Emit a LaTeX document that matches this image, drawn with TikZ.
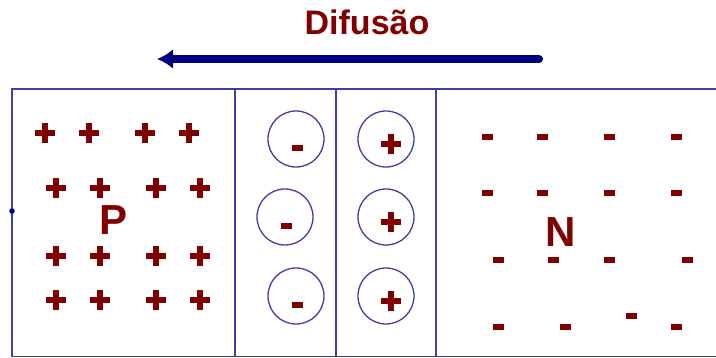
\documentclass[tikz,border=0pt]{standalone}
\usepackage{fontspec}
\setmainfont{Liberation Sans}
\usetikzlibrary{arrows.meta}
\definecolor{dred}{RGB}{128,0,0}
\definecolor{framec}{RGB}{64,64,160}
\definecolor{navyc}{RGB}{0,0,128}
\tikzset{
  plussign/.pic={\fill[dred] (-10,-3) rectangle (10,3); \fill[dred] (-3,-10) rectangle (3,10);},
  minussign/.pic={\fill[dred] (-5.5,-3) rectangle (5.5,3);},
  ion/.style={circle, draw=framec, line width=1.3pt, minimum size=56pt, inner sep=0pt},
  framel/.style={draw=framec, line width=1.6pt},
  biglabel/.style={font=\bfseries\fontsize{42}{42}\selectfont, text=dred, inner sep=0pt},
}
\begin{document}
\begin{tikzpicture}[x=1pt,y=-1pt]
\useasboundingbox (0,0) rectangle (716,358);
% frame
\draw[framel] (12,89) rectangle (718,356.5);
\draw[framel] (235,89) -- (235,356.5);
\draw[framel] (336,89) -- (336,356.5);
\draw[framel] (436,89) -- (436,356.5);
\fill[navyc] (12,211) circle (2.8);
% title and arrow
\node[font=\bfseries\fontsize{34}{34}\selectfont, text=dred, anchor=base, inner sep=0pt] (title) at (367,35) {Difusão};
\coordinate (arrS) at (539,59);
\coordinate (arrE) at (157,59);
\draw[navyc, line width=8pt, line cap=round, -{Latex[length=16pt,width=20pt]}] (arrS) -- (arrE);
% P region
\node[biglabel] (P) at (114,220) {P};
\foreach \x in {45,89,145,189} \pic at (\x,133) {plussign};
\foreach \y in {188,256,300} \foreach \x in {56,100,156,200} \pic at (\x,\y) {plussign};
% N region
\node[biglabel] (N) at (561,232) {N};
\foreach \y in {137,193} \foreach \x in {487,542,609,676} \pic at (\x,\y) {minussign};
\foreach \x in {498,553,609,687} \pic at (\x,260) {minussign};
\foreach \x in {498,565,676} \pic at (\x,327) {minussign};
\pic at (631,316) {minussign};
% depletion ions
\node[ion] (n1) at (296,139) {};
\node[ion] (n2) at (285,217) {};
\node[ion] (n3) at (296,296) {};
\pic at (297,148) {minussign};
\pic at (286,226) {minussign};
\pic at (297,305) {minussign};
\node[ion] (p1) at (386,139) {};
\node[ion] (p2) at (386,217) {};
\node[ion] (p3) at (386,296) {};
\pic at (391,144) {plussign};
\pic at (391,222) {plussign};
\pic at (391,301) {plussign};
\end{tikzpicture}
\end{document}
